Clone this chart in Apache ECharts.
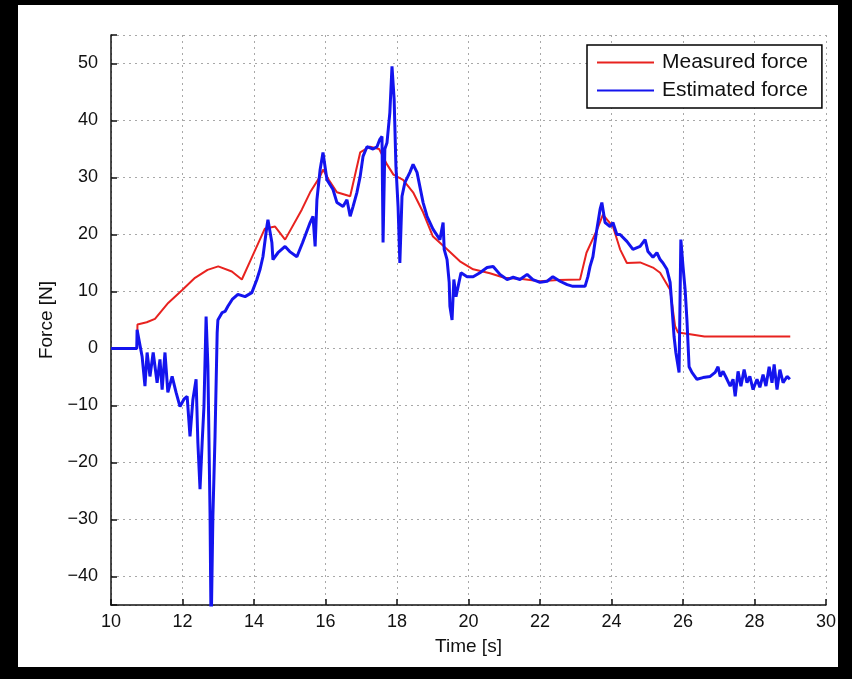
<!DOCTYPE html>
<html>
<head>
<meta charset="utf-8">
<script src="https://cdn.jsdelivr.net/npm/echarts@6/dist/echarts.min.js"></script>
<style>
  html, body { margin: 0; padding: 0; background: #000; }
  #chart { width: 852px; height: 679px; }
</style>
</head>
<body>
<div id="chart"></div>
<script>
// Measured force (red)
const measuredTime = [10.00, 10.73, 10.74, 11.00, 11.23, 11.60, 12.00, 12.35, 12.70, 13.00, 13.38, 13.66,
  13.94, 14.30, 14.59, 14.87, 15.34, 15.57, 15.85, 15.93, 16.10, 16.32, 16.69, 16.97, 17.24, 17.50,
  17.72, 17.90, 18.17, 18.45, 18.73, 19.00, 19.40, 19.76, 20.13, 20.60, 21.00, 21.50, 22.00, 22.50,
  23.12, 23.30, 23.60, 23.76, 24.04, 24.24, 24.43, 24.80, 25.16, 25.36, 25.64, 25.78, 25.86, 26.20,
  26.60, 29.00];
const measuredForce = [0, 0, 4.2, 4.6, 5.2, 8.0, 10.3, 12.4, 13.8, 14.4, 13.5, 12.1,
  16.0, 21.0, 21.4, 19.1, 24.4, 27.4, 30.2, 31.4, 29.5, 27.4, 26.7, 34.4, 35.4, 35.0,
  32.3, 30.5, 29.6, 27.4, 23.9, 19.7, 17.4, 15.3, 13.9, 13.2, 12.4, 12.2, 11.8, 12.0,
  12.1, 16.8, 20.9, 23.5, 21.4, 17.4, 15.0, 15.1, 14.2, 13.3, 10.3, 3.9, 2.8, 2.5,
  2.1, 2.1];

// Estimated force (blue)
const estimatedTime = [10.00, 10.72, 10.73, 10.87, 10.95, 11.01, 11.09, 11.18, 11.29, 11.37, 11.43, 11.51,
  11.59, 11.71, 11.82, 11.93, 12.04, 12.13, 12.21, 12.29, 12.38, 12.43, 12.49, 12.55, 12.60, 12.66,
  12.71, 12.77, 12.80, 12.85, 12.91, 12.97, 12.99, 13.11, 13.19, 13.27, 13.39, 13.55, 13.75, 13.94,
  14.08, 14.17, 14.25, 14.36, 14.39, 14.50, 14.53, 14.67, 14.87, 15.00, 15.20, 15.36, 15.57, 15.65,
  15.71, 15.76, 15.85, 15.93, 16.04, 16.21, 16.32, 16.49, 16.60, 16.69, 16.77, 16.88, 16.97, 17.05,
  17.16, 17.33, 17.44, 17.52, 17.58, 17.61, 17.66, 17.72, 17.80, 17.86, 17.92, 17.97, 18.03, 18.08,
  18.14, 18.22, 18.36, 18.45, 18.56, 18.64, 18.73, 18.84, 19.01, 19.20, 19.29, 19.32, 19.40, 19.46,
  19.48, 19.54, 19.59, 19.65, 19.71, 19.79, 19.96, 20.13, 20.32, 20.52, 20.69, 20.88, 21.08, 21.25,
  21.44, 21.64, 21.80, 22.00, 22.20, 22.36, 22.56, 22.76, 22.92, 23.12, 23.26, 23.34, 23.40, 23.48,
  23.59, 23.68, 23.73, 23.82, 23.96, 24.04, 24.15, 24.24, 24.43, 24.60, 24.80, 24.94, 25.02, 25.16,
  25.27, 25.36, 25.44, 25.55, 25.64, 25.69, 25.75, 25.80, 25.89, 25.94, 26.00, 26.06, 26.11, 26.17,
  26.25, 26.39, 26.56, 26.76, 26.90, 26.98, 27.04, 27.12, 27.23, 27.32, 27.40, 27.46, 27.54, 27.62,
  27.71, 27.79, 27.87, 27.96, 28.07, 28.15, 28.24, 28.32, 28.41, 28.49, 28.55, 28.63, 28.71, 28.80,
  28.91, 28.99];
const estimatedForce = [0, 0, 3.3, -1.4, -6.6, -0.7, -4.9, -0.7, -6.0, -1.9, -7.2, -0.7,
  -7.7, -4.9, -7.7, -10.2, -8.9, -8.4, -15.4, -9.0, -5.4, -16.5, -24.7, -16.5, -10.2, 5.6,
  -3.0, -28.8, -50.0, -29.5, -15.4, 2.8, 5.0, 6.3, 6.5, 7.4, 8.6, 9.5, 9.1, 9.8,
  12.1, 13.9, 16.1, 21.4, 22.6, 18.6, 15.6, 16.8, 17.9, 17.0, 16.1, 18.6, 22.1, 23.2,
  17.9, 26.1, 31.4, 34.4, 29.6, 27.9, 25.6, 24.9, 26.1, 23.2, 24.9, 27.4, 30.2, 33.7,
  35.4, 35.0, 35.4, 36.7, 37.2, 18.6, 35.0, 36.1, 41.4, 49.5, 43.7, 32.0, 24.9, 15.0,
  26.7, 29.1, 30.9, 32.3, 30.9, 28.4, 25.6, 23.2, 20.9, 19.1, 22.1, 17.4, 15.6, 11.6,
  7.4, 5.0, 12.1, 9.1, 10.9, 13.3, 12.6, 12.6, 13.3, 14.2, 14.4, 13.0, 12.1, 12.5,
  12.1, 13.0, 12.1, 11.6, 11.8, 12.6, 11.8, 11.2, 10.9, 10.9, 10.9, 12.6, 14.4, 16.1,
  20.9, 24.4, 25.6, 22.1, 21.4, 22.1, 20.0, 20.0, 18.8, 17.4, 17.9, 19.1, 17.0, 16.0,
  16.8, 15.6, 15.0, 13.9, 11.6, 7.4, 2.1, -0.7, -4.2, 19.1, 14.4, 10.3, 5.0, -3.2,
  -4.2, -5.4, -5.1, -4.9, -4.2, -3.2, -4.9, -4.0, -5.4, -6.6, -5.4, -8.4, -4.0, -6.6,
  -3.7, -6.0, -4.9, -7.2, -5.4, -6.8, -4.6, -6.6, -3.2, -6.0, -2.8, -7.2, -3.7, -6.0,
  -4.9, -5.4];

const seriesNames = ['Measured force', 'Estimated force'];
const xTitle = 'Time [s]';
const yTitle = 'Force [N]';

const pairs = (xs, ys) => xs.map((x, i) => [x, ys[i]]);

const FONT = '"Liberation Sans", Arial, Helvetica, sans-serif';
const INK = '#111';
const gridDots = { color: '#a8a8a8', width: 1, type: [2, 4] };

const chart = echarts.init(document.getElementById('chart'), null, { renderer: 'canvas' });

chart.setOption({
  animation: false,
  backgroundColor: '#000',
  graphic: [{
    type: 'rect',
    silent: true,
    z: -100,
    shape: { x: 18, y: 5, width: 820, height: 662 },
    style: { fill: '#ffffff' }
  }],
  grid: { left: 111, right: 26, top: 35, bottom: 74, containLabel: false },
  legend: {
    orient: 'vertical',
    left: 587,
    top: 45,
    padding: [7, 14, 7, 10],
    itemGap: 7,
    itemWidth: 57,
    itemHeight: 2,
    icon: 'rect',
    backgroundColor: '#fff',
    borderColor: '#000',
    borderWidth: 1.5,
    borderRadius: 0,
    textStyle: { fontFamily: FONT, fontSize: 21, color: INK, padding: [0, 0, 0, 3] },
    data: seriesNames
  },
  xAxis: {
    type: 'value',
    min: 10, max: 30, interval: 2,
    name: xTitle,
    nameLocation: 'middle',
    nameGap: 32,
    nameTextStyle: { fontFamily: FONT, fontSize: 19, color: INK },
    axisLine: { onZero: false, lineStyle: { color: INK, width: 1.5 } },
    axisTick: { inside: true, length: 6, lineStyle: { color: INK, width: 1.5 } },
    axisLabel: { fontFamily: FONT, fontSize: 18, color: INK, margin: 8 },
    splitLine: { show: true, lineStyle: gridDots }
  },
  yAxis: {
    type: 'value',
    min: -45, max: 55,
    splitNumber: 10, minInterval: 10, maxInterval: 10,
    name: yTitle,
    nameLocation: 'middle',
    nameGap: 55,
    nameTextStyle: { fontFamily: FONT, fontSize: 19, color: INK },
    axisLine: { onZero: false, lineStyle: { color: INK, width: 1.5 } },
    axisTick: { inside: true, length: 6, lineStyle: { color: INK, width: 1.5 } },
    axisLabel: {
      fontFamily: FONT, fontSize: 18, color: INK, margin: 13,
      formatter: v => (Math.abs(v % 10) < 1e-9 ? String(v).replace('-', '\u2212') : '')
    },
    splitLine: { show: true, lineStyle: gridDots }
  },
  series: [
    {
      name: seriesNames[0],
      type: 'line',
      data: pairs(measuredTime, measuredForce),
      symbol: 'none',
      lineStyle: { color: '#e8221f', width: 2 },
      itemStyle: { color: '#e8221f' },
      z: 3
    },
    {
      name: seriesNames[1],
      type: 'line',
      data: pairs(estimatedTime, estimatedForce),
      symbol: 'none',
      lineStyle: { color: '#1414ee', width: 3 },
      itemStyle: { color: '#1414ee' },
      z: 4
    }
  ]
});
</script>
</body>
</html>
